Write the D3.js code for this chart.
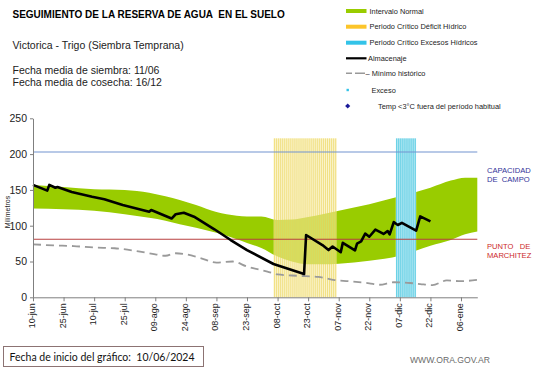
<!DOCTYPE html>
<html><head><meta charset="utf-8">
<script src="https://cdn.jsdelivr.net/npm/d3@7"></script>
<style>
body{margin:0;background:#fff;}
svg{display:block;font-family:"Liberation Sans",Arial,sans-serif;}
</style></head><body><svg id="c" width="541" height="368"></svg>
<script>
// ---------- data ----------
const startDate = "2024-06-10";
const endDate = "2025-01-14";
const tickDates = ["2024-06-10","2024-06-25","2024-07-10","2024-07-25","2024-08-09","2024-08-24","2024-09-08","2024-09-23","2024-10-08","2024-10-23","2024-11-07","2024-11-22","2024-12-07","2024-12-22","2025-01-06"];
const tickLabels = ["10-jun","25-jun","10-jul","25-jul","09-ago","24-ago","08-sep","23-sep","08-oct","23-oct","07-nov","22-nov","07-dic","22-dic","06-ene"];
const yTicks = [0,50,100,150,200,250];

// normal interval band (days since start date)
const bandDays  = [0,15,30,45,57,65,72,80,90,100,105,112,120,127,135,142,150,165,180,195,205,212,218];
const bandUpper = [157,154,151,150,146,141,136,129,119,114,113,113,108,108.5,112,116,121,130,141,153,163,167,167];
const bandLower = [124,123,121,116,111,107,102,97,90,81,76,69,57,50,46,46,47,51,58,72,80,88,92];

// almacenaje (storage)
const storageDays = [0,7,8,11,12,19,29,35,44,57,58,68,70,74,79,89,97,105,118,133,134,142,145,147,151,152,158,159,161,163,165,168,172,174,175,177,179,181,188,190,195];
const storageVals = [157,149,157,153,154,147,140.5,137,129,119.5,122,110,116,118,112.6,95,80,66,46.5,32.5,87,73,66,71,63,76,65.5,75,78,89,84.6,94.5,88.5,92.6,88,105,101,104,93,113,106];

// minimo historico
const minDays = [0,10,20,30,40,50,60,65,70,75,82,90,98,105,115,120,130,140,148,155,165,170,177,185,190,196,203,210,218];
const minVals = [74,72.5,71.5,69.5,68.5,65,60,58,61.5,60,55,48.5,50,43,36,32,30,28.5,24,22.5,19.5,17.5,21,20,18.5,17,23.5,22.5,24.5];

const fieldCapacity = 203;
const wiltingPoint = 81;
const deficitPeriod = ["2024-10-06","2024-11-05"];
const excessPeriod = ["2024-12-05","2024-12-14"];
const periodTop = 222;

// ---------- chart ----------
const svg = d3.select("#c");
const parse = d3.utcParse("%Y-%m-%d");
const t0 = parse(startDate);
const dayDate = d => d3.utcDay.offset(t0, d);
const x = d3.scaleUtc().domain([t0, parse(endDate)]).range([33, 477.3]);
const y = d3.scaleLinear().domain([0, 250]).range([297.3, 118.3]);
const dayW = x(dayDate(1)) - x(dayDate(0));

// green band
const area = d3.area().x((d,i)=>x(dayDate(bandDays[i]))).y0((d,i)=>y(bandLower[i])).y1((d,i)=>y(bandUpper[i])).curve(d3.curveMonotoneX);
svg.append("path").datum(bandDays).attr("d", area).attr("fill", "#99cc00");

// period columns
function periodCols(period, bg, bgOp, stripe, stripeOp, stripeW) {
  const days = d3.utcDay.range(parse(period[0]), d3.utcDay.offset(parse(period[1]), 1));
  const g = svg.append("g");
  g.append("rect").attr("x", x(days[0])).attr("y", y(periodTop))
    .attr("width", x(d3.utcDay.offset(days[days.length-1],1)) - x(days[0]))
    .attr("height", y(0) - y(periodTop)).attr("fill", bg).attr("fill-opacity", bgOp);
  g.selectAll("rect.c").data(days).join("rect").attr("class","c")
    .attr("x", d => x(d) + (dayW - stripeW)/2).attr("y", y(periodTop))
    .attr("width", stripeW).attr("height", y(0) - y(periodTop))
    .attr("fill", stripe).attr("fill-opacity", stripeOp);
}
periodCols(deficitPeriod, "#f7eca8", 0.6, "#e9cf4a", 0.55, 1.0);
periodCols(excessPeriod, "#e2f6fa", 1, "#2fbfdb", 0.9, 1.05);

// horizontal reference lines
svg.append("line").attr("x1", x(t0)).attr("x2", x(parse(endDate))).attr("y1", y(fieldCapacity)).attr("y2", y(fieldCapacity)).attr("stroke", "#7393cf").attr("stroke-width", 1.1);
svg.append("line").attr("x1", x(t0)).attr("x2", x(parse(endDate))).attr("y1", y(wiltingPoint)).attr("y2", y(wiltingPoint)).attr("stroke", "#b94040").attr("stroke-width", 1.1);

// min historico
const lineMin = d3.line().x((d,i)=>x(dayDate(minDays[i]))).y((d,i)=>y(minVals[i])).curve(d3.curveMonotoneX);
svg.append("path").datum(minDays).attr("d", lineMin).attr("fill","none").attr("stroke","#9a9a9a").attr("stroke-width",1.8).attr("stroke-dasharray","8,5");

// storage
const lineS = d3.line().x((d,i)=>x(dayDate(storageDays[i]))).y((d,i)=>y(storageVals[i]));
svg.append("path").datum(storageDays).attr("d", lineS).attr("fill","none").attr("stroke","#000").attr("stroke-width",2.6).attr("stroke-linejoin","round");

// axes
const yAxis = svg.append("g").attr("transform","translate(33,0)")
  .call(d3.axisLeft(y).tickValues(yTicks).tickSize(3).tickSizeOuter(0).tickPadding(3));
yAxis.selectAll("text").attr("font-size", 10.5).attr("fill", "#222").attr("font-family","Liberation Sans, Arial, sans-serif");
yAxis.selectAll("line,path").attr("stroke", "#7f7f7f");

const xAxis = svg.append("g").attr("transform", `translate(0,${y(0)})`)
  .call(d3.axisBottom(x).tickValues(tickDates.map(parse)).tickFormat((d,i)=>tickLabels[i]).tickSize(4).tickSizeOuter(0));
xAxis.selectAll("line,path").attr("stroke", "#7f7f7f");
xAxis.selectAll("text").attr("font-size", 9).attr("fill", "#222").attr("font-family","Liberation Sans, Arial, sans-serif")
  .attr("text-anchor", "end").attr("dy", null).attr("y", null)
  .attr("transform", "translate(1.5,6) rotate(-90)");

// y axis title
svg.append("text").attr("transform", "translate(10,212) rotate(-90)").attr("text-anchor","middle")
  .attr("font-size", 7).attr("fill", "#222").text("Milímetros");

// right labels
const cap = svg.append("text").attr("font-size", 7.6).attr("fill", "#333399");
cap.append("tspan").attr("x", 487).attr("y", 173).text("CAPACIDAD");
cap.append("tspan").attr("x", 487).attr("y", 182).style("white-space","pre").text("DE  CAMPO");
const pm = svg.append("text").attr("font-size", 7.6).attr("fill", "#cc2a2a");
pm.append("tspan").attr("x", 487).attr("y", 249).style("white-space","pre").text("PUNTO   DE");
pm.append("tspan").attr("x", 487).attr("y", 258).text("MARCHITEZ");

// titles
svg.append("text").attr("x", 12.5).attr("y", 18).attr("font-size", 10).attr("font-weight","bold").attr("fill","#000")
  .style("white-space","pre").text("SEGUIMIENTO DE LA RESERVA DE AGUA  EN EL SUELO");
svg.append("text").attr("x", 12.5).attr("y", 49).attr("font-size", 10.5).attr("fill","#222").text("Victorica - Trigo (Siembra Temprana)");
svg.append("text").attr("x", 12.5).attr("y", 74).attr("font-size", 10.5).attr("fill","#222").text("Fecha media de siembra: 11/06");
svg.append("text").attr("x", 12.5).attr("y", 86).attr("font-size", 10.5).attr("fill","#222").text("Fecha media de cosecha: 16/12");

// legend
const lg = svg.append("g").attr("font-size", 7.4).attr("fill", "#222");
const lx = 346, lw = 20.5, tx = 369.5;
const rows = [11, 26.7, 42.7, 58.3, 73.3, 90, 106];
lg.append("rect").attr("x", lx).attr("y", rows[0]-2).attr("width", lw).attr("height", 4).attr("fill", "#99cc00");
lg.append("text").attr("x", tx).attr("y", rows[0]+2.6).text("Intervalo Normal");
lg.append("rect").attr("x", lx).attr("y", rows[1]-2).attr("width", lw).attr("height", 4).attr("fill", "#fcc52a");
lg.append("text").attr("x", tx).attr("y", rows[1]+2.6).text("Periodo Crítico Déficit Hídrico");
lg.append("rect").attr("x", lx).attr("y", rows[2]-2).attr("width", lw).attr("height", 4).attr("fill", "#33c3e8");
lg.append("text").attr("x", tx).attr("y", rows[2]+2.6).text("Periodo Crítico Excesos Hídricos");
lg.append("line").attr("x1", lx).attr("x2", lx+lw).attr("y1", rows[3]).attr("y2", rows[3]).attr("stroke","#000").attr("stroke-width",2.2);
lg.append("text").attr("x", tx-1.5).attr("y", rows[3]+2.6).text("Almacenaje");
lg.append("line").attr("x1", lx).attr("x2", lx+lw).attr("y1", rows[4]).attr("y2", rows[4]).attr("stroke","#999").attr("stroke-width",1.6).attr("stroke-dasharray","6,3,4,0");
lg.append("text").attr("x", tx-4).attr("y", rows[4]+2.6).text("– Mínimo histórico");
lg.append("rect").attr("x", lx+0.5).attr("y", rows[5]-1.2).attr("width", 2.4).attr("height", 2.4).attr("fill", "#33c3e8");
lg.append("text").attr("x", tx+2).attr("y", rows[5]+2.6).text("Exceso");
lg.append("rect").attr("x", -1.8).attr("y", -1.8).attr("width", 3.6).attr("height", 3.6)
  .attr("transform", `translate(${lx+1.7},${rows[6]}) rotate(45)`).attr("fill", "#1a1a99");
lg.append("text").attr("x", tx+8.5).attr("y", rows[6]+2.6).text("Temp <3°C fuera del período habitual");

// footer
svg.append("rect").attr("x", 3.5).attr("y", 346.5).attr("width", 200).attr("height", 20).attr("fill","none").attr("stroke","#8c7373").attr("stroke-width",1);
svg.append("text").attr("x", 9.5).attr("y", 361).attr("font-size", 10.5).attr("font-family","Lato, 'Open Sans', sans-serif").attr("fill","#111")
  .style("white-space","pre").text("Fecha de inicio del gráfico:  10/06/2024");
svg.append("text").attr("x", 410).attr("y", 363).attr("font-size", 8.6).attr("fill","#6a6a6a").text("WWW.ORA.GOV.AR");
</script></body></html>
